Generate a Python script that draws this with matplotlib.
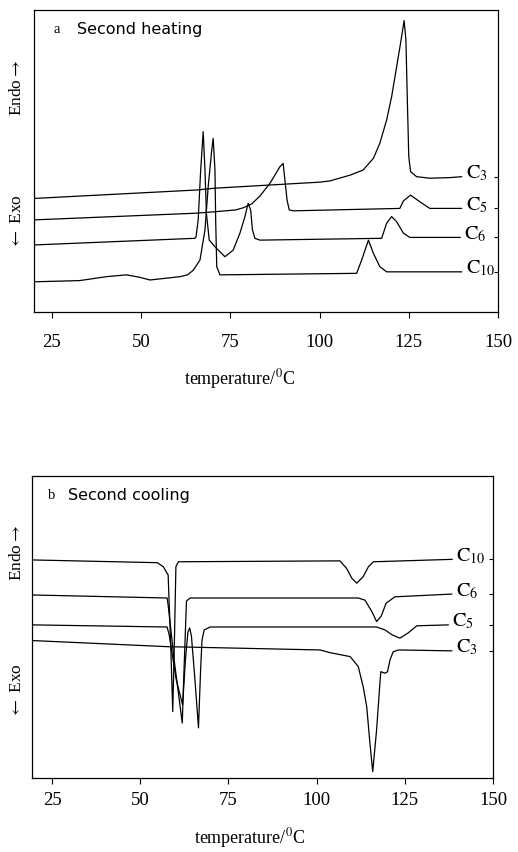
import matplotlib.pyplot as plt

plt.rcParams['font.family'] = ['Liberation Serif', 'DejaVu Serif']
plt.rcParams['mathtext.fontset'] = 'stix'

W, H = 518, 852

# ---- panel a: second heating (temperature degC, signal a.u.) ----
heat_c3_t = [20, 65.6, 70.7, 100.1, 102.9, 108.5, 112.2, 115.1, 116.9, 118.8, 120.2,
             121.6, 122.7, 123.7, 124.2, 124.6, 125.0, 125.5, 127.2, 130.9, 136.5, 139.8]
heat_c3_y = [37.6, 40.4, 41.0, 43.0, 43.4, 45.3, 47.0, 50.9, 55.9, 63.6, 71.3,
             81.2, 89.0, 96.5, 90.1, 70.2, 51.4, 46.5, 44.8, 44.3, 44.5, 44.8]

heat_c5_t = [20, 65.1, 70.7, 76.5, 78.6, 81.0, 83.3, 86.1, 88.9, 89.8, 90.9, 91.5, 92.6,
             122.5, 123.5, 125.5, 128.1, 130.9, 139.8]
heat_c5_y = [30.5, 32.7, 33.2, 33.8, 34.5, 35.8, 38.4, 42.6, 48.1, 49.2, 37.1, 33.8, 33.5,
             34.3, 36.8, 38.7, 36.5, 34.3, 34.3]

heat_c6_t = [20, 65.1, 65.4, 66.0, 66.7, 67.4, 67.9, 68.3, 69.1, 70.7, 73.5, 75.8,
             77.7, 79.1, 80.0, 80.7, 81.2, 81.9, 83.3, 117.4, 118.8, 120.2, 121.6,
             123.5, 125.3, 139.4]
heat_c6_y = [22.2, 24.4, 24.9, 30.5, 47.0, 59.7, 47.0, 32.7, 23.8, 21.6, 18.3, 20.5,
             26.1, 31.6, 36.0, 33.8, 27.2, 24.4, 23.8, 24.4, 29.4, 31.6, 29.9,
             26.1, 24.7, 24.7]

heat_c10_t = [20, 32.8, 40.3, 45.9, 49.6, 52.5, 57.1, 60.9, 63.0, 64.6, 66.5, 67.9, 68.8,
              69.8, 70.2, 70.7, 70.9, 71.2, 72.1, 110.4, 111.8, 113.7, 115.1, 116.9,
              118.8, 139.8]
heat_c10_y = [10.0, 10.4, 11.7, 12.3, 11.5, 10.6, 11.2, 11.7, 12.3, 13.8, 17.2, 27.2, 41.5,
              53.6, 57.5, 47.0, 30.5, 15.0, 12.3, 12.8, 17.2, 23.8, 19.4, 15.0,
              13.3, 13.3]

# ---- panel b: second cooling ----
cool_c10_t = [19.6, 54.8, 56.5, 57.9, 58.7, 59.2, 59.6, 60.1, 60.8, 106.6, 108.5,
              110.0, 111.4, 113.2, 114.7, 116.1, 138.4]
cool_c10_y = [72.2, 71.3, 70.0, 67.2, 41.4, 22.0, 41.4, 70.0, 71.6, 71.9, 69.4,
              66.1, 64.5, 66.7, 70.0, 71.6, 72.4]

cool_c6_t = [19.6, 57.6, 57.9, 59.6, 61.9, 62.3, 62.8, 63.1, 64.1, 111.8, 113.7,
             115.7, 117.0, 118.3, 119.7, 122.2, 138.3]
cool_c6_y = [60.6, 59.6, 57.3, 39.1, 18.2, 32.5, 49.0, 58.6, 59.6, 59.6, 58.9,
             55.0, 51.8, 53.6, 57.9, 60.0, 60.9]

cool_c5_t = [19.6, 57.6, 58.2, 60.2, 62.0, 62.8, 63.5, 64.0, 64.5, 65.5, 66.5, 67.1,
             67.5, 68.1, 69.8, 117.0, 119.4, 121.4, 123.6, 125.9, 128.4, 137.3]
cool_c5_y = [50.7, 50.0, 47.4, 32.5, 24.2, 39.1, 48.3, 49.7, 47.0, 32.5, 16.6, 35.8,
             45.7, 49.0, 50.0, 50.0, 49.0, 47.4, 46.3, 48.0, 50.4, 50.7]

cool_c3_t = [19.6, 57.5, 101.0, 103.8, 109.5, 111.8, 113.2, 114.2, 115.1, 115.9,
             117.0, 118.0, 118.2, 119.4, 120.1, 120.8, 121.7, 123.2, 138.3]
cool_c3_y = [45.5, 43.5, 42.4, 41.5, 40.2, 36.9, 30.2, 23.6, 11.6, 2.1,
             15.9, 32.5, 35.2, 34.7, 35.2, 39.1, 41.8, 42.4, 42.1]

heat_names = [r'$\mathrm{C}_{3}$', r'$\mathrm{C}_{5}$', r'$\mathrm{C}_{6}$', r'$\mathrm{C}_{10}$']
cool_names = [r'$\mathrm{C}_{10}$', r'$\mathrm{C}_{6}$', r'$\mathrm{C}_{5}$', r'$\mathrm{C}_{3}$']
xticks = [25, 50, 75, 100, 125, 150]


def px_axes(left, top, right, bottom):
    return [left / W, 1 - bottom / H, (right - left) / W, (bottom - top) / H]


def draw_panel(ax, curves, names, xlim, letter, title, letter_x, title_x, pad):
    for (t, y), name in zip(curves, names):
        ax.plot(t, y, color='black', lw=0.9)
        ax.text(t[-1] + 1.2, y[-1] + 1.0, name, fontsize=14.5, va='center', ha='left')
    ax.set_xlim(*xlim)
    ax.set_ylim(0, 100)
    ax.set_xticks(xticks)
    ax.set_xticklabels([str(v) for v in xticks], fontsize=13.5)
    ax.set_yticks([y[-1] for t, y in curves])
    ax.tick_params(axis='x', direction='out', length=4, width=0.8, pad=pad)
    ax.tick_params(axis='y', left=False, labelleft=False, right=True, direction='in',
                   length=3, width=0.8)
    for s in ax.spines.values():
        s.set_linewidth(0.9)
    ax.text(letter_x, 0.935, letter, transform=ax.transAxes, fontsize=10.5, va='center')
    ax.text(title_x, 0.935, title, transform=ax.transAxes, fontsize=11.5, va='center',
            family=['DejaVu Sans'])


fig = plt.figure(figsize=(W / 100, H / 100), dpi=100)

ax1 = fig.add_axes(px_axes(34, 10, 498, 312))
draw_panel(ax1, [(heat_c3_t, heat_c3_y), (heat_c5_t, heat_c5_y),
                 (heat_c6_t, heat_c6_y), (heat_c10_t, heat_c10_y)],
           heat_names, (20, 150), 'a', 'Second heating', 0.041, 0.093, 12)

ax2 = fig.add_axes(px_axes(32, 476, 493, 778))
draw_panel(ax2, [(cool_c10_t, cool_c10_y), (cool_c6_t, cool_c6_y),
                 (cool_c5_t, cool_c5_y), (cool_c3_t, cool_c3_y)],
           cool_names, (19.3, 150), 'b', 'Second cooling', 0.035, 0.078, 6)

# axis captions, placed in figure pixels
for x, y, s in [(240, 379, r'temperature/$^{0}$C'), (250, 838, r'temperature/$^{0}$C')]:
    fig.text(x / W, 1 - y / H, s, fontsize=13, ha='center', va='center')
for y, s in [(88, r'Endo$\rightarrow$'), (222, r'$\leftarrow$ Exo'),
             (553, r'Endo$\rightarrow$'), (691, r'$\leftarrow$ Exo')]:
    fig.text(17 / W, 1 - y / H, s, fontsize=12.5, rotation=90, ha='center', va='center')

fig.savefig('out.png', dpi=100)
